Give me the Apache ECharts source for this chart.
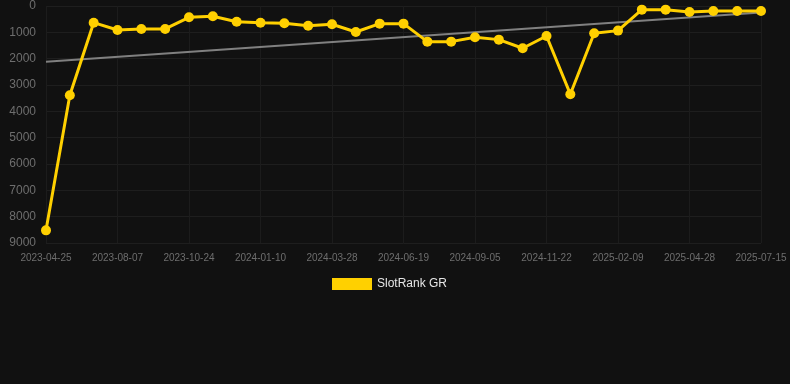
<!DOCTYPE html>
<html>
<head>
<meta charset="utf-8">
<script src="https://cdn.jsdelivr.net/npm/echarts@6/dist/echarts.min.js"></script>
<style>
html,body{margin:0;padding:0;background:#111111;}
#chart{width:790px;height:384px;}
</style>
</head>
<body>
<div id="chart"></div>
<script>
var categories = ['2023-04-25','2023-05-30','2023-07-04','2023-08-07','2023-09-02','2023-09-28','2023-10-24','2023-11-19','2023-12-15','2024-01-10','2024-02-05','2024-03-02','2024-03-28','2024-04-25','2024-05-22','2024-06-19','2024-07-15','2024-08-10','2024-09-05','2024-10-01','2024-10-27','2024-11-22','2024-12-18','2025-01-14','2025-02-09','2025-03-07','2025-04-02','2025-04-28','2025-05-24','2025-06-19','2025-07-15'];
var rankValues = [8520,3390,633,910,872,872,429,391,595,633,657,747,695,986,670,670,1353,1353,1188,1277,1605,1138,3349,1036,935,139,139,228,190,190,190];
var trendValues = [2120,null,null,null,null,null,null,null,null,null,null,null,null,null,null,null,null,null,null,null,null,null,null,null,null,null,null,null,null,null,250];
var yTicks = [0,1000,2000,3000,4000,5000,6000,7000,8000,9000];
var seriesName = 'SlotRank GR';

var chart = echarts.init(document.getElementById('chart'));
chart.setOption({
  backgroundColor: '#111111',
  animation: false,
  grid: {left: 46, right: 29, top: 6, bottom: 141, containLabel: false},
  legend: {
    data: [seriesName],
    top: 273,
    left: 327,
    itemWidth: 40,
    itemHeight: 12,
    itemGap: 6,
    icon: 'rect',
    textStyle: {color: '#e6e6e6', fontSize: 12, fontFamily: 'Liberation Sans, Arial, sans-serif'}
  },
  xAxis: {
    type: 'category',
    data: categories,
    boundaryGap: false,
    axisLine: {show: false},
    axisTick: {show: false},
    axisLabel: {interval: 2, color: '#6e6e6e', fontSize: 10, margin: 10, fontFamily: 'Liberation Sans, Arial, sans-serif'},
    splitLine: {show: true, interval: 2, lineStyle: {color: '#1c1c1c', width: 1}}
  },
  yAxis: {
    type: 'value',
    inverse: true,
    min: yTicks[0],
    max: yTicks[yTicks.length - 1],
    interval: 1000,
    axisLine: {show: false},
    axisTick: {show: false},
    axisLabel: {color: '#6e6e6e', fontSize: 12, margin: 10, fontFamily: 'Liberation Sans, Arial, sans-serif', formatter: function (v) { return String(v); }},
    splitLine: {show: true, lineStyle: {color: '#1e1e1e', width: 1}}
  },
  series: [
    {
      name: 'trend',
      type: 'line',
      data: trendValues,
      connectNulls: true,
      showSymbol: false,
      symbol: 'none',
      lineStyle: {color: '#808080', width: 2},
      itemStyle: {color: '#808080'},
      z: 1
    },
    {
      name: seriesName,
      type: 'line',
      data: rankValues,
      symbol: 'circle',
      symbolSize: 10,
      lineStyle: {color: '#ffd000', width: 3},
      itemStyle: {color: '#ffd000'},
      z: 2
    }
  ]
});
</script>
</body>
</html>
